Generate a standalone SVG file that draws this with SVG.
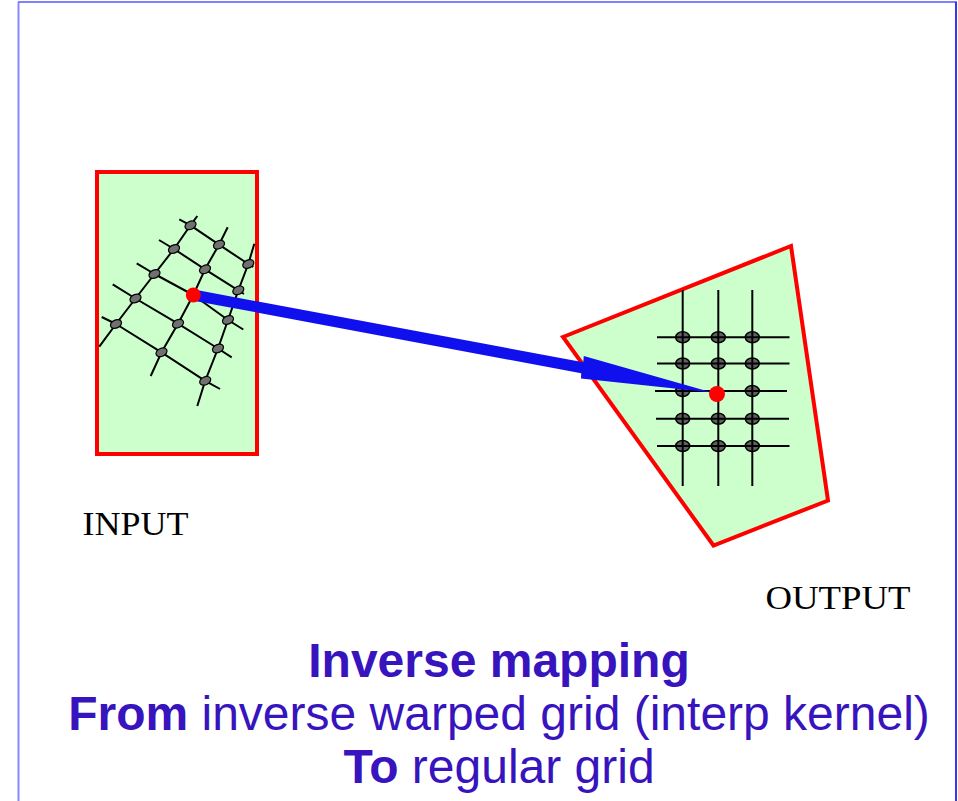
<svg xmlns="http://www.w3.org/2000/svg" width="958" height="801" viewBox="0 0 958 801">
<style>
.panel{fill:#ccffcc;stroke:#ff0000;stroke-width:4;stroke-linejoin:miter}
.gl{fill:none;stroke:#000;stroke-width:2;stroke-linejoin:round}
.nd{fill:#707070;stroke:#000;stroke-width:1.2}
.nd2{fill:#606060;stroke:#000;stroke-width:1.5}
.dot{fill:#ff0000}
.lbl{font-family:"Liberation Serif","Times New Roman",serif;font-size:34px;fill:#000}
.cap{font-family:"Liberation Sans",Arial,sans-serif;font-size:48px;fill:#3714be;text-anchor:middle}
.b{font-weight:bold}
</style>
<rect x="0" y="0" width="958" height="801" fill="#ffffff"/>
<g id="frame">
<line x1="18.5" y1="2" x2="18.5" y2="801" stroke="#8888ff" stroke-width="2"/>
<line x1="18" y1="2" x2="957" y2="2" stroke="#8080ff" stroke-width="2"/>
<line x1="956" y1="2" x2="956" y2="801" stroke="#2020ff" stroke-width="1.8"/>
</g>
<g id="input">
<rect class="panel" x="97" y="172" width="160" height="282"/>
<g id="input-grid">
<polyline class="gl" points="179.3,219.3 190.5,225.3 219,244.7 248.3,264 253.3,267"/>
<polyline class="gl" points="159,240 174,249 205,269.3 238.3,290.3 244,294"/>
<polyline class="gl" points="136.7,263.3 154.5,274 193.3,295 228,320 243.3,329.5"/>
<polyline class="gl" points="112.7,284.3 135.5,298.5 178,323.7 218,348.5 231.7,357.3"/>
<polyline class="gl" points="101.7,317 116,324 161.5,352.3 205.2,380.8 220,389"/>
<polyline class="gl" points="197.3,216 190.5,225.3 174,249 154.5,274 135.5,298.5 116,324 99.3,346.7"/>
<polyline class="gl" points="227.7,227.3 219,244.7 205,269.3 193.3,295 178,323.7 161.5,352.3 150.7,376"/>
<polyline class="gl" points="254.3,243.7 248.3,264 238.3,290.3 228,320 218,348.5 205.2,380.8 197.3,406"/>
<g class="nd">
<ellipse cx="190.5" cy="225.3" rx="5.8" ry="4" transform="rotate(-25 190.5 225.3)"/>
<ellipse cx="219" cy="244.7" rx="5.8" ry="4" transform="rotate(-25 219 244.7)"/>
<ellipse cx="248.3" cy="264" rx="5.8" ry="4" transform="rotate(-25 248.3 264)"/>
<ellipse cx="174" cy="249" rx="5.8" ry="4" transform="rotate(-25 174 249)"/>
<ellipse cx="205" cy="269.3" rx="5.8" ry="4" transform="rotate(-25 205 269.3)"/>
<ellipse cx="238.3" cy="290.3" rx="5.8" ry="4" transform="rotate(-25 238.3 290.3)"/>
<ellipse cx="154.5" cy="274" rx="5.8" ry="4" transform="rotate(-25 154.5 274)"/>
<ellipse cx="228" cy="320" rx="5.8" ry="4" transform="rotate(-25 228 320)"/>
<ellipse cx="135.5" cy="298.5" rx="5.8" ry="4" transform="rotate(-25 135.5 298.5)"/>
<ellipse cx="178" cy="323.7" rx="5.8" ry="4" transform="rotate(-25 178 323.7)"/>
<ellipse cx="218" cy="348.5" rx="5.8" ry="4" transform="rotate(-25 218 348.5)"/>
<ellipse cx="116" cy="324" rx="5.8" ry="4" transform="rotate(-25 116 324)"/>
<ellipse cx="161.5" cy="352.3" rx="5.8" ry="4" transform="rotate(-25 161.5 352.3)"/>
<ellipse cx="205.2" cy="380.8" rx="5.8" ry="4" transform="rotate(-25 205.2 380.8)"/>
</g>
</g>
<text class="lbl" x="82.5" y="534.5" textLength="106" lengthAdjust="spacingAndGlyphs">INPUT</text>
</g>
<g id="output">
<polygon class="panel" points="563,337 791,246 828,500.5 713.5,545.5"/>
<g id="output-grid">
<g class="nd2">
<ellipse cx="682.7" cy="337.3" rx="7" ry="5.5"/>
<ellipse cx="718.3" cy="337.3" rx="7" ry="5.5"/>
<ellipse cx="752.3" cy="337.3" rx="7" ry="5.5"/>
<ellipse cx="682.7" cy="363.5" rx="7" ry="5.5"/>
<ellipse cx="718.3" cy="363.5" rx="7" ry="5.5"/>
<ellipse cx="752.3" cy="363.5" rx="7" ry="5.5"/>
<ellipse cx="682.7" cy="391" rx="7" ry="5.5"/>
<ellipse cx="752.3" cy="391" rx="7" ry="5.5"/>
<ellipse cx="682.7" cy="418.7" rx="7" ry="5.5"/>
<ellipse cx="718.3" cy="418.7" rx="7" ry="5.5"/>
<ellipse cx="752.3" cy="418.7" rx="7" ry="5.5"/>
<ellipse cx="682.7" cy="446" rx="7" ry="5.5"/>
<ellipse cx="718.3" cy="446" rx="7" ry="5.5"/>
<ellipse cx="752.3" cy="446" rx="7" ry="5.5"/>
</g>
<line class="gl" x1="682.7" y1="290" x2="682.7" y2="486"/>
<line class="gl" x1="718.3" y1="290" x2="718.3" y2="486"/>
<line class="gl" x1="752.3" y1="290" x2="752.3" y2="486"/>
<line class="gl" x1="657" y1="337.3" x2="789.5" y2="337.3"/>
<line class="gl" x1="657" y1="363.5" x2="789.5" y2="363.5"/>
<line class="gl" x1="655" y1="391" x2="787" y2="391"/>
<line class="gl" x1="656" y1="418.7" x2="789" y2="418.7"/>
<line class="gl" x1="657" y1="446" x2="789.5" y2="446"/>
</g>
<text class="lbl" x="765.5" y="609" textLength="145" lengthAdjust="spacingAndGlyphs">OUTPUT</text>
</g>
<g id="connectors">
<polygon points="194,289.6 583.3,362.2 583.8,356 712,392.5 581,378.5 581.2,373.2 192,300.4" fill="#1010ee"/>
</g>
<g id="points">
<circle class="dot" cx="193.3" cy="295" r="7.5"/>
<circle class="dot" cx="717" cy="394" r="8"/>
</g>
<g id="caption">
<text class="cap b" x="499" y="677">Inverse mapping</text>
<text class="cap" x="499" y="730"><tspan class="b">From</tspan> inverse warped grid (interp kernel)</text>
<text class="cap" x="499" y="783"><tspan class="b">To</tspan> regular grid</text>
</g>
</svg>
